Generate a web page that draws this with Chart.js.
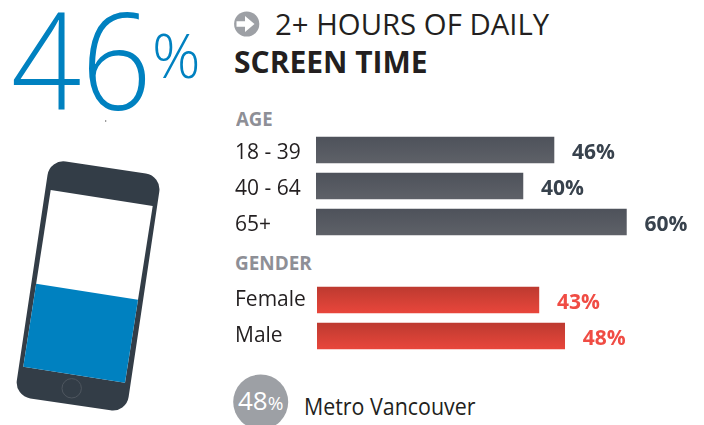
<!DOCTYPE html>
<html>
<head>
<meta charset="utf-8">
<script src="https://cdn.jsdelivr.net/npm/chart.js@4"></script>
<style>
html,body{margin:0;padding:0;background:#fff;width:704px;height:425px;overflow:hidden;position:relative;font-family:"Open Sans",sans-serif}
canvas,svg{position:absolute}
.t{position:absolute;white-space:nowrap;line-height:1;transform-origin:0 0}
</style>
</head>
<body>
<svg id="phone" width="230" height="425" style="left:0;top:0">
  <circle cx="105.7" cy="121" r="0.7" fill="#555"/>
  <rect x="31.6" y="166.2" width="113" height="239.5" rx="16" fill="#333d47" transform="rotate(8.5 88.1 285.7)"/>
  <polygon points="50.7,190 152.7,206 125,382.7 23.3,366.7" fill="#fff"/>
  <polygon id="fill" fill="#0081c0"/>
  <circle cx="71.7" cy="388.3" r="9.7" fill="none" stroke="#4e565f" stroke-width="1"/>
</svg>
<svg width="704" height="425" style="left:0;top:0;pointer-events:none">
  <circle cx="246.7" cy="24" r="12.6" fill="#9da0a5"/>
  <path d="M236.5 21.2h8.5v-5.2l9.5 8-9.5 8v-5.2h-8.5z" fill="#fff"/>
  <circle cx="260.7" cy="402" r="27.5" fill="#9da0a5"/>
</svg>

<div class="t" id="big" style="left:11px;top:-9px;font-size:134px;font-weight:300;color:#0081c0;transform:scaleX(.92)"></div>
<div class="t" style="left:152px;top:25px;font-size:60px;font-weight:300;color:#0081c0">%</div>
<div class="t" style="left:275px;top:9px;font-size:30px;color:#231f20;transform:scaleX(.978)">2+ HOURS OF DAILY</div>
<div class="t" style="left:234px;top:47px;font-size:30px;font-weight:700;color:#231f20">SCREEN TIME</div>
<div class="t" style="left:236px;top:109px;font-size:20px;font-weight:700;color:#8e8f96;transform:scaleX(.93)">AGE</div>
<div class="t" style="left:235px;top:253px;font-size:20px;font-weight:700;color:#8e8f96;transform:scaleX(.946)">GENDER</div>
<div class="t" id="reg" style="left:238px;top:387px;font-size:26px;color:#fff"></div>
<div class="t" style="left:304px;top:395px;font-size:23px;color:#231f20;transform:scaleX(.93)">Metro Vancouver</div>

<canvas id="age" width="469" height="108" style="left:235px;top:132px"></canvas>
<canvas id="gender" width="469" height="72" style="left:235px;top:282px"></canvas>

<script>
const overallValue = 46;
const regionValue = 48;
const ageLabels = ["18 - 39", "40 - 64", "65+"];
const ageValues = [46, 40, 60];
const genderLabels = ["Female", "Male"];
const genderValues = [43, 48];

document.getElementById('big').textContent = overallValue;
document.getElementById('reg').innerHTML = regionValue + '<span style="font-size:19px;letter-spacing:-1px">%</span>';

// phone fill level follows the overall value
const pxPerPct = 83 / 46, k = overallValue * pxPerPct / 176.7;
const bl = [23.3, 366.7], tl = [50.7, 190], br = [125, 382.7], tr = [152.7, 206];
const mix = (a, b) => [a[0] + (b[0] - a[0]) * k, a[1] + (b[1] - a[1]) * k];
document.getElementById('fill').setAttribute('points', [mix(bl, tl), mix(br, tr), br, bl].map(p => p.join(',')).join(' '));

const valueLabels = {
  id: 'valueLabels',
  afterDatasetsDraw(chart, args, opts) {
    const c = chart.ctx, meta = chart.getDatasetMeta(0);
    c.save();
    c.font = '700 21px "Open Sans"';
    c.fillStyle = opts.color;
    c.textBaseline = 'middle';
    meta.data.forEach((bar, i) => {
      c.fillText(chart.data.datasets[0].data[i] + '%', bar.x + 18, bar.y + 3);
    });
    c.restore();
  }
};

function makeChart(id, labels, values, axisWidth, labelShift, top, bottom, labelColor) {
  return new Chart(document.getElementById(id), {
    type: 'bar',
    data: {
      labels,
      datasets: [{
        data: values,
        barThickness: 26,
        borderWidth: 0,
        backgroundColor(ctx) {
          const y = ctx.chart.scales.y;
          const cy = y ? y.getPixelForValue(ctx.dataIndex) : NaN;
          if (ctx.dataIndex === undefined || !isFinite(cy)) return bottom;
          const g = ctx.chart.ctx.createLinearGradient(0, cy - 13, 0, cy + 13);
          g.addColorStop(0, top);
          g.addColorStop(1, bottom);
          return g;
        }
      }]
    },
    options: {
      indexAxis: 'y',
      responsive: false,
      animation: false,
      layout: { padding: 0 },
      plugins: {
        legend: { display: false },
        tooltip: { enabled: false },
        title: { display: false },
        valueLabels: { color: labelColor }
      },
      scales: {
        x: { display: false, min: 0, max: 75 },
        y: {
          afterFit(s) { s.width = axisWidth; s.paddingTop = 0; s.paddingBottom = 0; },
          grid: { display: false, drawTicks: false },
          border: { display: false },
          ticks: {
            crossAlign: 'far',
            labelOffset: labelShift,
            color: '#231f20',
            font: { family: '"Open Sans"', size: 21 },
            autoSkip: false
          }
        }
      }
    },
    plugins: [valueLabels]
  });
}

makeChart('age', ageLabels, ageValues, 81, 3, '#4e525b', '#5e6168', '#38424d');
makeChart('gender', genderLabels, genderValues, 82, 0, '#bd3a30', '#e8463b', '#f04c44');
</script>
</body>
</html>
